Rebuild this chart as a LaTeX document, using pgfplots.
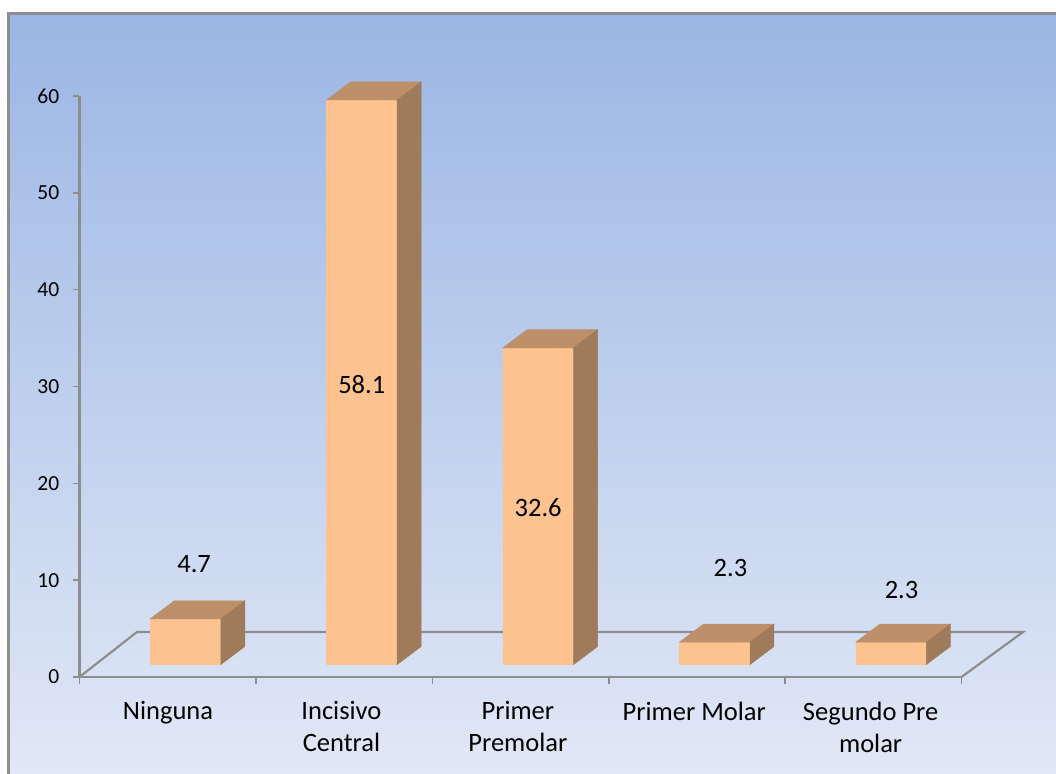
\documentclass[border=0pt]{standalone}
\usepackage{pgfplots}
\pgfplotsset{compat=1.18}
\usepackage{pgfplotstable}
\usepackage{fontspec}
\setmainfont{Carlito}
\definecolor{barfront}{HTML}{FCC28F}
\definecolor{bartop}{HTML}{BE9069}
\definecolor{barside}{HTML}{9F7B5B}
\definecolor{axisgray}{HTML}{8E8E8E}
\definecolor{bgtop}{HTML}{9BB6E4}
\definecolor{bgbottom}{HTML}{E1E8F6}
\newlength{\px}\setlength{\px}{0.75pt}

% Category positions and percentages
\pgfplotstableread{
pos   value
0.601 4.7
1.601 58.1
2.601 32.6
3.601 2.3
4.601 2.3
}\teethdata

% Oblique faces of one bar: #1 bar centre, #2 value
\newcommand{\depthfaces}[2]{%
  \pgfmathsetmacro{\xl}{#1-0.2}%
  \pgfmathsetmacro{\xr}{#1+0.2}%
  \pgfmathsetmacro{\xlb}{\xl+0.136}%
  \pgfmathsetmacro{\xrb}{\xr+0.136}%
  \pgfmathsetmacro{\yb}{1.29}%
  \pgfmathsetmacro{\yt}{1.29+1.0034*#2}%
  \pgfmathsetmacro{\ybb}{\yb+1.86}%
  \pgfmathsetmacro{\ytb}{\yt+1.86}%
  \edef\faces{%
    \noexpand\addplot[fill=bartop,draw=bartop,line width=0.5\px,forget plot]
      coordinates {(\xl,\yt)(\xr,\yt)(\xrb,\ytb)(\xlb,\ytb)} -- cycle;
    \noexpand\addplot[fill=barside,draw=barside,line width=0.5\px,forget plot]
      coordinates {(\xr,\yb)(\xrb,\ybb)(\xrb,\ytb)(\xr,\yt)} -- cycle;
  }\faces
}

\begin{document}
\begin{tikzpicture}[x=\px,y=\px]
  % Page area with the origin of the axis at (0,0)
  \path[use as bounding box,fill=white] (-79.5,-97) rectangle (976.5,677);
  \clip (-79.5,-97) rectangle (976.5,677);
  \shade[top color=bgtop,bottom color=bgbottom,draw=none]
    (-71,-97) rectangle (976.5,663.5);
  \draw[axisgray,line width=2.2\px] (-71,-99) -- (-71,663.5) -- (978,663.5);
  \begin{axis}[
    at={(0,0)},anchor=origin,
    scale only axis,
    width=882\px,height=581\px,
    xmin=0,xmax=5,ymin=0,ymax=60,
    clip=false,
    axis x line=bottom,axis y line=left,
    axis line style={-,axisgray,line width=2.2\px},
    tick style={axisgray,line width=1.6\px},
    tick align=outside,
    major tick length=6.5\px,
    xtick={0,1,2,3,4,5},
    xticklabels={},
    ytick={0,10,20,30,40,50,60},
    /pgf/number format/assume math mode=true,
    yticklabel style={font=\fontsize{21.5\px}{24\px}\selectfont,black,xshift=-9\px},
    extra x ticks={0.502,1.485,2.485,3.485,4.485},
    extra x tick labels={Ninguna,{Incisivo\\Central},{Primer\\Premolar},Primer Molar,{Segundo Pre\\molar}},
    extra x tick style={
      major tick length=0pt,
      tick label style={font=\fontsize{26.5\px}{32\px}\selectfont,black,align=center,anchor=north,yshift=-20\px},
    },
  ]
    % Floor of the chart
    \addplot[axisgray,line width=2.2\px,forget plot]
      coordinates {(0,0)(0.326,4.65)(5.349,4.65)(5,0)};
    % Front faces, raised to the front edge of the floor
    \addplot[ybar,bar width=70.5\px,fill=barfront,draw=barfront,line width=0.5\px,
             yshift=12.5\px,yscale=1.0034,forget plot]
      table[x=pos,y=value] {\teethdata};
    \depthfaces{0.601}{4.7}
    \depthfaces{1.601}{58.1}
    \depthfaces{2.601}{32.6}
    \depthfaces{3.601}{2.3}
    \depthfaces{4.601}{2.3}
    % Value labels
    \begin{scope}[every node/.style={font=\fontsize{26.5\px}{30\px}\selectfont,black}]
      \node at (axis cs:0.65,11.7) {4.7};
      \node at (axis cs:1.6,30.2) {58.1};
      \node at (axis cs:2.6,17.5) {32.6};
      \node at (axis cs:3.69,11.3) {2.3};
      \node at (axis cs:4.66,9.0) {2.3};
    \end{scope}
  \end{axis}
\end{tikzpicture}
\end{document}
